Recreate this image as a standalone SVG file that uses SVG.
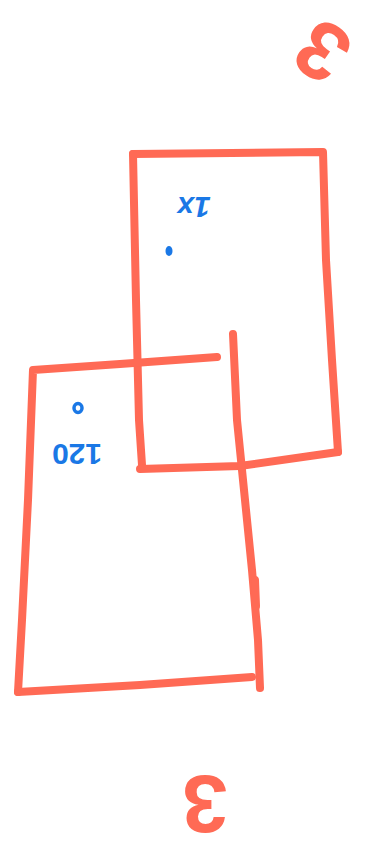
<svg xmlns="http://www.w3.org/2000/svg" width="366" height="853" viewBox="0 0 366 853">
<style>
.ln{fill:none;stroke:#ff6a55;stroke-width:8;stroke-linecap:round;stroke-linejoin:round}
.red{fill:#ff6a55;font-family:"Liberation Sans",Arial,sans-serif;font-weight:bold;text-anchor:middle}
.blue{fill:#1a78e6;font-family:"Liberation Sans",Arial,sans-serif;font-weight:bold;text-anchor:middle}
</style>
<rect width="366" height="853" fill="#ffffff"/>
<g id="rect-top">
<path class="ln" d="M133,154 L323,152 L326,260 L332,360 L338,452"/>
<path class="ln" d="M133,154 L136,300 L139,420 L142,465"/>
<path class="ln" d="M140,469 L240,466 L338,452"/>
</g>
<g id="rect-bottom">
<path class="ln" d="M217,357 L120,364 L33,370 L28,500 L22,620 L18,692"/>
<path class="ln" d="M18,692 L140,685 L252,677"/>
<path class="ln" d="M233,334 L237,420 L243,480 L252,570 L258,640 L260,688"/>
<path class="ln" d="M255,580 L256,606"/>
</g>
<g id="label-1x">
<text class="blue" font-size="30" font-style="italic" transform="translate(194,208) rotate(180)" y="11">1x</text>
<ellipse cx="169" cy="251" rx="3.5" ry="5" fill="#1a78e6"/>
</g>
<g id="label-120">
<text class="blue" font-size="30" transform="translate(77,455) rotate(180)" y="11">120</text>
<ellipse cx="78" cy="408" rx="4" ry="4.5" fill="none" stroke="#1a78e6" stroke-width="3.5"/>
</g>
<g id="mark-top">
<text class="red" font-size="82" transform="translate(322,52) rotate(215)" y="29">3</text>
</g>
<g id="mark-bottom">
<text class="red" font-size="82" transform="translate(205,805) rotate(180)" y="29">3</text>
</g>
</svg>
